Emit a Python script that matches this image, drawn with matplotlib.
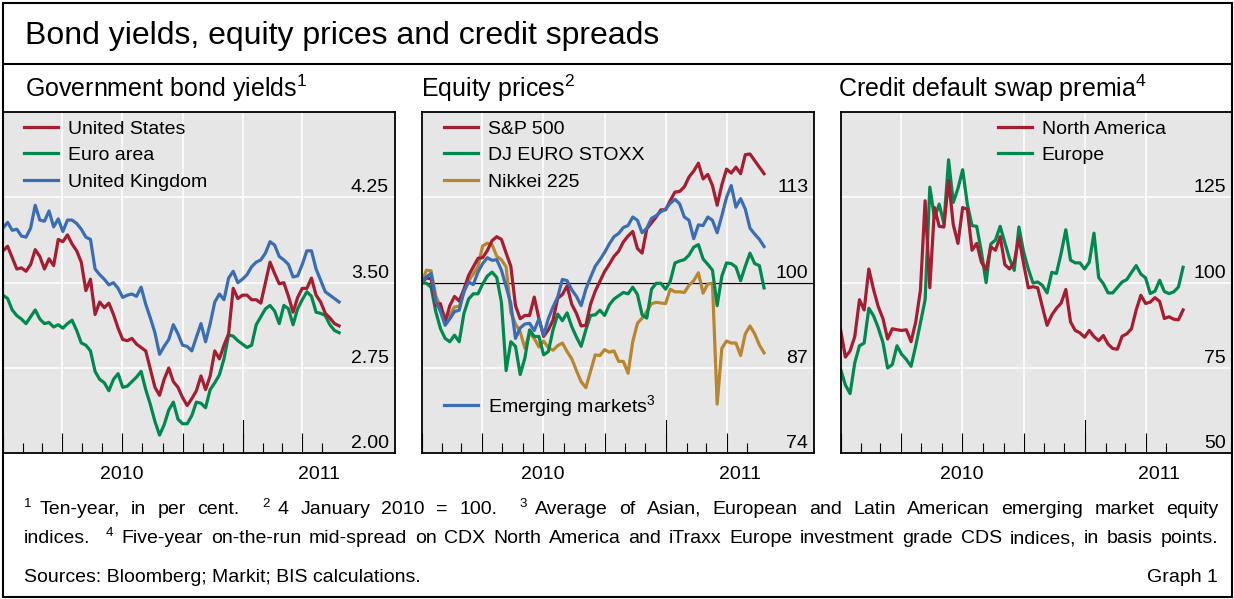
import numpy as np
import pandas as pd
import matplotlib
matplotlib.use("Agg")
import matplotlib.pyplot as plt
import matplotlib.dates as mdates
from matplotlib import transforms
from matplotlib.lines import Line2D
from matplotlib.patches import Rectangle

plt.rcParams['font.family'] = ['Liberation Sans', 'DejaVu Sans']
plt.rcParams['mathtext.fontset'] = 'custom'
plt.rcParams['mathtext.rm'] = 'Liberation Sans'
plt.rcParams['mathtext.default'] = 'regular'


# weekly observations, 1 Jan 2010 to 27 May 2011
dates = pd.date_range('2010-01-01', periods=74, freq='7D')

# government bond yields, ten-year, per cent
us_yield = [3.78, 3.82, 3.72, 3.62, 3.63, 3.60, 3.66, 3.79, 3.73, 3.62,
            3.71, 3.65, 3.88, 3.86, 3.92, 3.84, 3.78, 3.68, 3.43, 3.53,
            3.22, 3.33, 3.28, 3.32, 3.22, 3.10, 3.00, 2.99, 3.01, 2.96,
            2.93, 2.90, 2.74, 2.58, 2.51, 2.65, 2.75, 2.63, 2.58, 2.49,
            2.42, 2.48, 2.55, 2.68, 2.56, 2.68, 2.90, 2.83, 2.95, 3.05,
            3.45, 3.36, 3.39, 3.39, 3.35, 3.35, 3.32, 3.50, 3.68, 3.58,
            3.49, 3.50, 3.38, 3.24, 3.37, 3.45, 3.45, 3.54, 3.39, 3.33,
            3.23, 3.19, 3.14, 3.12]
ea_yield = [3.39, 3.36, 3.26, 3.21, 3.18, 3.14, 3.20, 3.26, 3.18, 3.14,
            3.15, 3.11, 3.13, 3.10, 3.14, 3.17, 3.08, 2.97, 2.95, 2.90,
            2.72, 2.65, 2.62, 2.55, 2.65, 2.70, 2.58, 2.59, 2.63, 2.67,
            2.72, 2.56, 2.43, 2.28, 2.16, 2.25, 2.38, 2.45, 2.30, 2.26,
            2.26, 2.33, 2.45, 2.44, 2.40, 2.56, 2.62, 2.69, 2.83, 3.04,
            3.03, 2.99, 2.96, 2.93, 2.95, 3.13, 3.20, 3.27, 3.30, 3.25,
            3.14, 3.30, 3.27, 3.13, 3.27, 3.35, 3.42, 3.38, 3.24, 3.23,
            3.21, 3.13, 3.08, 3.06]
uk_yield = [3.98, 4.03, 3.96, 3.97, 3.91, 3.90, 3.98, 4.18, 4.05, 4.04,
            4.13, 3.99, 4.06, 3.95, 4.05, 4.05, 4.02, 3.97, 3.90, 3.88,
            3.62, 3.57, 3.53, 3.48, 3.50, 3.45, 3.37, 3.39, 3.40, 3.38,
            3.46, 3.31, 3.19, 3.06, 2.87, 2.94, 3.00, 3.13, 3.05, 2.95,
            2.94, 2.90, 3.02, 3.14, 2.98, 3.14, 3.33, 3.40, 3.35, 3.54,
            3.60, 3.50, 3.53, 3.57, 3.64, 3.68, 3.70, 3.76, 3.86, 3.83,
            3.73, 3.70, 3.66, 3.55, 3.56, 3.66, 3.78, 3.78, 3.62, 3.52,
            3.42, 3.39, 3.36, 3.33]

# equity prices, 4 January 2010 = 100
sp500 = [100.0, 100.7, 100.6, 96.5, 96.8, 94.0, 96.5, 97.9, 97.2, 99.0,
         101.1, 102.4, 103.7, 103.8, 104.9, 106.4, 107.0, 106.6, 104.5, 102.5,
         96.5, 94.5, 95.0, 95.0, 97.8, 94.5, 91.8, 92.8, 94.3, 97.6,
         98.2, 99.5, 96.7, 95.3, 93.4, 93.5, 96.7, 98.7, 100.2, 101.7,
         102.8, 104.0, 104.8, 106.2, 107.1, 107.8, 105.2, 104.5, 108.2, 109.1,
         110.0, 111.1, 111.1, 112.5, 113.8, 113.9, 114.6, 116.1, 117.0, 118.2,
         115.8, 116.5, 114.8, 111.8, 114.9, 117.3, 116.7, 117.6, 116.6, 119.5,
         119.6, 118.6, 117.6, 116.6]
eurostoxx = [100.0, 99.9, 99.3, 95.6, 93.0, 91.5, 91.0, 92.0, 91.0, 95.3,
             97.5, 98.3, 98.3, 99.8, 101.0, 101.6, 100.8, 97.0, 86.6, 91.0,
             90.3, 86.0, 88.5, 92.8, 91.8, 91.8, 89.0, 89.5, 92.8, 95.2,
             94.2, 95.4, 93.3, 91.7, 90.3, 92.8, 95.0, 95.1, 95.8, 95.0,
             96.6, 97.5, 98.0, 98.5, 98.3, 99.3, 98.2, 95.1, 94.6, 99.0,
             99.9, 99.9, 99.0, 100.2, 103.0, 103.3, 103.5, 104.2, 105.4, 105.8,
             103.6, 102.8, 101.9, 96.5, 101.0, 103.0, 102.9, 102.4, 100.3, 102.5,
             104.5, 102.9, 102.6, 99.2]
nikkei = [100.0, 101.9, 101.8, 98.0, 96.3, 94.8, 95.0, 96.3, 96.4, 98.5,
          100.3, 101.3, 102.5, 105.6, 106.0, 105.8, 104.0, 103.5, 102.4, 95.5,
          93.7, 92.5, 90.0, 92.3, 91.5, 90.2, 91.1, 90.1, 89.7, 90.4,
          90.8, 89.5, 88.4, 86.6, 84.9, 84.0, 86.5, 89.0, 88.9, 89.8,
          89.4, 89.6, 88.0, 88.0, 86.2, 91.0, 93.8, 94.6, 95.6, 96.8,
          97.0, 96.9, 96.8, 99.0, 98.6, 98.6, 98.5, 99.6, 100.3, 101.5,
          98.4, 99.8, 99.9, 81.5, 90.0, 91.1, 90.8, 90.8, 88.9, 92.2,
          93.4, 92.2, 90.5, 89.3]
emerging = [100.0, 100.9, 101.4, 97.2, 95.6, 93.5, 94.5, 95.6, 95.8, 98.7,
            100.1, 99.7, 101.6, 102.9, 103.8, 103.4, 103.5, 101.9, 99.4, 96.8,
            91.5, 93.1, 93.7, 93.8, 92.7, 94.5, 92.0, 94.5, 96.3, 97.8,
            100.5, 100.3, 98.9, 97.9, 96.5, 99.0, 100.8, 102.5, 103.5, 104.6,
            105.9, 107.0, 107.5, 108.4, 108.7, 110.0, 109.5, 107.6, 108.3, 109.8,
            110.2, 110.8, 111.2, 112.1, 112.7, 112.0, 110.0, 109.5, 106.7, 108.8,
            108.7, 110.0, 109.5, 107.6, 110.2, 113.0, 114.8, 111.5, 112.8, 111.2,
            108.3, 107.4, 106.6, 105.5]

# CDS premia, basis points
cds_na = [86.0, 78.2, 80.0, 84.2, 95.0, 92.0, 104.0, 98.0, 93.0, 89.5,
          83.5, 86.5, 86.2, 86.0, 86.2, 82.7, 88.5, 97.8, 124.0, 98.5,
          122.0, 116.5, 116.3, 130.0, 117.0, 111.5, 122.0, 121.5, 109.5, 111.5,
          106.0, 103.8, 110.5, 109.5, 113.5, 105.3, 104.0, 106.0, 113.2, 105.5,
          98.5, 98.8, 98.5, 92.9, 87.5, 90.5, 92.5, 94.0, 98.0, 88.5,
          86.0, 85.3, 84.0, 86.0, 84.2, 83.0, 84.5, 82.0, 80.7, 80.5,
          84.3, 85.0, 86.5, 92.0, 96.3, 93.9, 94.3, 95.6, 94.5, 89.5,
          90.0, 89.3, 89.1, 92.0]
cds_eu = [74.5, 70.0, 67.5, 76.5, 81.5, 82.3, 92.5, 90.3, 86.8, 82.5,
          75.0, 76.0, 81.5, 79.0, 77.5, 75.5, 81.5, 88.2, 95.0, 128.0,
          119.0, 123.0, 117.3, 136.0, 123.5, 127.6, 133.1, 123.0, 116.7, 116.5,
          109.0, 100.0, 111.3, 112.5, 116.5, 111.7, 107.0, 103.6, 116.3, 109.0,
          104.0, 99.9, 100.2, 99.2, 97.0, 103.0, 102.7, 108.6, 115.5, 106.6,
          105.8, 105.8, 104.0, 106.0, 114.5, 101.5, 99.7, 97.0, 97.0, 98.6,
          100.2, 100.9, 103.0, 105.0, 102.5, 101.4, 96.8, 97.5, 100.7, 97.4,
          96.8, 97.3, 98.7, 104.5]

yield_ticks = [2.00, 2.75, 3.50, 4.25]
equity_ticks = [74, 87, 100, 113]
cds_ticks = [50, 75, 100, 125]

footnote1 = ("^1 Ten-year, in per cent. ^2 4 January 2010 = 100. ^3 Average of Asian, "
             "European and Latin American emerging market equity")
footnote2 = ("indices. ^4 Five-year on-the-run mid-spread on CDX North America and iTraxx "
             "Europe investment grade CDS indices, in basis points.")

RED = '#A61C30'
GREEN = '#00894F'
BLUE = '#3B6DB4'
GOLD = '#B8862E'
BG = '#E6E6E6'

W, H = 1234, 599
fig = plt.figure(figsize=(W / 100, H / 100), dpi=100)

# month ticks run only to the last month with data
months = pd.date_range('2010-01-01', '2011-05-01', freq='MS')
quarters = [d for d in months if d.month in (1, 4, 7, 10)]


def box(l, t, r, b):
    return [l / W, 1 - b / H, (r - l) / W, (b - t) / H]


def style(ax, ylim, ticks, xmax):
    x0 = pd.Timestamp('2010-01-01')
    x1 = pd.Timestamp(xmax)
    ax.set_facecolor(BG)
    ax.set_xlim(x0, x1)
    ax.set_ylim(*ylim)
    ax.set_xticks(quarters)
    ax.set_xticks(months, minor=True)
    ax.set_yticks(ticks)
    ax.set_axisbelow(True)
    ax.grid(True, which='major', color='white', lw=1.1)
    ax.tick_params(axis='x', which='both', direction='in', labelbottom=False,
                   width=0.8, color='k')
    ax.tick_params(axis='x', which='major', length=14.4)
    ax.tick_params(axis='x', which='minor', length=7.2)
    ax.tick_params(axis='y', length=0, labelleft=False)
    for s in ax.spines.values():
        s.set_linewidth(1.3)
    ax.axvline(pd.Timestamp('2011-01-01'), 0, 0.097, color='k', lw=0.8)
    # value labels sit just above their gridlines, inside the right edge
    tr = transforms.offset_copy(ax.get_yaxis_transform(), fig=fig, x=-6, y=5, units='dots')
    for v in ticks:
        lab = f'{v:.2f}' if isinstance(v, float) else str(v)
        ax.text(1, v, lab, transform=tr, ha='right', va='baseline', fontsize=14)
    # year labels under the axis
    xt = ax.get_xaxis_transform()
    ax.text(pd.Timestamp('2010-07-01'), -0.076, '2010', transform=xt,
            ha='center', va='baseline', fontsize=14)
    ax.text(pd.Timestamp('2011-01-01') + (x1 - pd.Timestamp('2011-01-01')) / 2, -0.076,
            '2011', transform=xt, ha='center', va='baseline', fontsize=14)


legend_kw = dict(frameon=False, fontsize=14, handlelength=1.75, handletextpad=0.5,
                 labelspacing=0.45, borderpad=0, borderaxespad=0)
lw = 2.3

# panel 1
ax1 = fig.add_axes(box(3, 112, 395, 453.3))
style(ax1, (2.0, 5.0), yield_ticks, '2011-08-20')
l_uk, = ax1.plot(dates, uk_yield, color=BLUE, lw=lw)
l_ea, = ax1.plot(dates, ea_yield, color=GREEN, lw=lw)
l_us, = ax1.plot(dates, us_yield, color=RED, lw=lw)
ax1.legend([l_us, l_ea, l_uk], ['United States', 'Euro area', 'United Kingdom'],
           loc='upper left', bbox_to_anchor=(0.054, 0.976), **legend_kw)

# panel 2
ax2 = fig.add_axes(box(421.7, 112, 814.3, 453.3))
style(ax2, (74, 126), equity_ticks, '2011-08-10')
ax2.axhline(100, color='k', lw=0.9, zorder=1.5)
l_nk, = ax2.plot(dates, nikkei, color=GOLD, lw=lw)
l_es, = ax2.plot(dates, eurostoxx, color=GREEN, lw=lw)
l_sp, = ax2.plot(dates, sp500, color=RED, lw=lw)
l_em, = ax2.plot(dates, emerging, color=BLUE, lw=lw)
leg = ax2.legend([l_sp, l_es, l_nk], ['S&P 500', 'DJ EURO STOXX', 'Nikkei 225'],
                 loc='upper left', bbox_to_anchor=(0.057, 0.976), **legend_kw)
ax2.add_artist(leg)
ax2.legend([l_em], ['Emerging markets$^{3}$'], loc='center left',
           bbox_to_anchor=(0.057, 0.139), **legend_kw)

# panel 3
ax3 = fig.add_axes(box(840.7, 112, 1232, 453.3))
style(ax3, (50, 150), cds_ticks, '2011-08-08')
l_eu, = ax3.plot(dates, cds_eu, color=GREEN, lw=lw)
l_na, = ax3.plot(dates, cds_na, color=RED, lw=lw)
ax3.legend([l_na, l_eu], ['North America', 'Europe'],
           loc='upper left', bbox_to_anchor=(0.402, 0.976), **legend_kw)

# titles
fig.text(25 / W, 1 - 44 / H, 'Bond yields, equity prices and credit spreads',
         fontsize=23, va='baseline')
for x, t in [(25, 'Government bond yields$^{1}$'), (421, 'Equity prices$^{2}$'),
             (838, 'Credit default swap premia$^{4}$')]:
    fig.text(x / W, 1 - 97 / H, t, fontsize=18, va='baseline')

# frame
fig.add_artist(Rectangle((2.5 / W, 1 - 597 / H), 1229.5 / W, 594 / H, fill=False,
                         ec='k', lw=1.5, transform=fig.transFigure))
fig.add_artist(Line2D([2.5 / W, 1232 / W], [1 - 64 / H, 1 - 64 / H], color='k', lw=1.5,
                      transform=fig.transFigure))

# footnotes, justified between x0 and x1
renderer = fig.canvas.get_renderer()


def justify(line, ybase, x0=24, x1=1218, size=14):
    arts = []
    for w in line.split(' '):
        sup = w.startswith('^')
        t = fig.text(0, 1 - (ybase - (7 if sup else 0)) / H, w[1:] if sup else w,
                     fontsize=size * 0.68 if sup else size, va='baseline')
        arts.append((t, sup, t.get_window_extent(renderer).width))
    fixed = sum(a[2] for a in arts)
    weights = []
    sup_gap = 8
    for i in range(len(arts) - 1):
        if arts[i][1]:
            weights.append(0)
            fixed += sup_gap
        else:
            weights.append(2 if arts[i + 1][1] else 1)
    unit = (x1 - x0 - fixed) / sum(weights)
    x = x0
    for i, (t, sup, w) in enumerate(arts):
        t.set_x(x / W)
        if i < len(weights):
            x += w + (sup_gap if weights[i] == 0 else unit * weights[i])


justify(footnote1, 514)
justify(footnote2, 543)
fig.text(24 / W, 1 - 582 / H, 'Sources: Bloomberg; Markit; BIS calculations.',
         fontsize=14, va='baseline')
fig.text(1218 / W, 1 - 582 / H, 'Graph 1', fontsize=14, va='baseline', ha='right')

fig.savefig('out.png', dpi=100)
